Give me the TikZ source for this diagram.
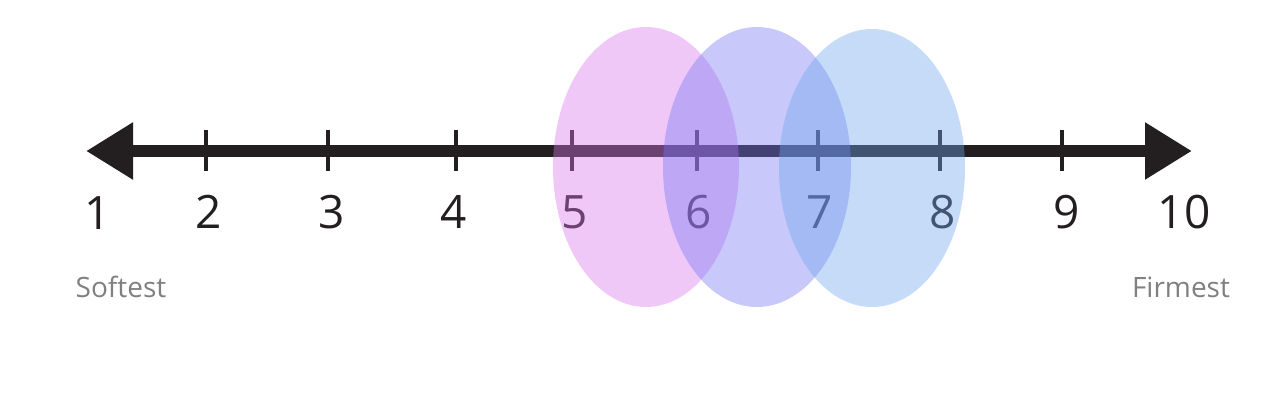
\documentclass[tikz,border=0pt]{standalone}
\usepackage{fontspec}
\setmainfont{Open Sans}
\usetikzlibrary{arrows.meta}
\definecolor{axis}{RGB}{35,31,32}
\definecolor{labgray}{RGB}{128,128,128}
\definecolor{ovpink}{RGB}{217,117,237}
\definecolor{ovpurple}{RGB}{117,117,242}
\definecolor{ovblue}{RGB}{110,165,237}
\tikzset{
  ticmark/.style={draw=axis, line width=3.5pt},
  numlab/.style={anchor=base, inner sep=0pt, text=axis, font=\fontsize{46}{50}\selectfont},
  endlab/.style={anchor=base, inner sep=0pt, text=labgray, font=\fontsize{28}{32}\selectfont},
  blob/.style={fill opacity=0.4}
}
\begin{document}
\begin{tikzpicture}[x=1pt,y=-1pt]
\useasboundingbox (0,0) rectangle (1280,401);
% axis
\coordinate (lefttip) at (86,151);
\coordinate (righttip) at (1192,151);
\draw[draw=axis, fill=axis, line width=12.5pt,
  {Triangle[length=47pt,width=54pt]}-{Triangle[length=47pt,width=54pt]}]
  (lefttip) -- (righttip);
% ticks
\foreach \x/\n in {206/2,328/3,456/4,572/5,697/6,818/7,940/8,1062/9}{
  \coordinate (t\n a) at (\x,130);
  \coordinate (t\n b) at (\x,171);
  \draw[ticmark] (t\n a) -- (t\n b);
}
% numbers
\node[numlab] (n1) at (98,229) {1};
\foreach \x/\n in {209/2,332/3,454/4,575/5,699/6,820/7,943/8,1067/9,1184/10}{
  \node[numlab] (n\n) at (\x,228) {\n};
}
% end labels
\node[endlab] (soft) at (121,297) {Softest};
\node[endlab] (firm) at (1181,297) {Firmest};
% ellipses
\fill[blob, ovpink] (646,167) ellipse [x radius=93, y radius=140];
\fill[blob, ovpurple] (757,167) ellipse [x radius=94, y radius=140];
\fill[blob, ovblue] (872,168) ellipse [x radius=93, y radius=139];
\end{tikzpicture}
\end{document}
